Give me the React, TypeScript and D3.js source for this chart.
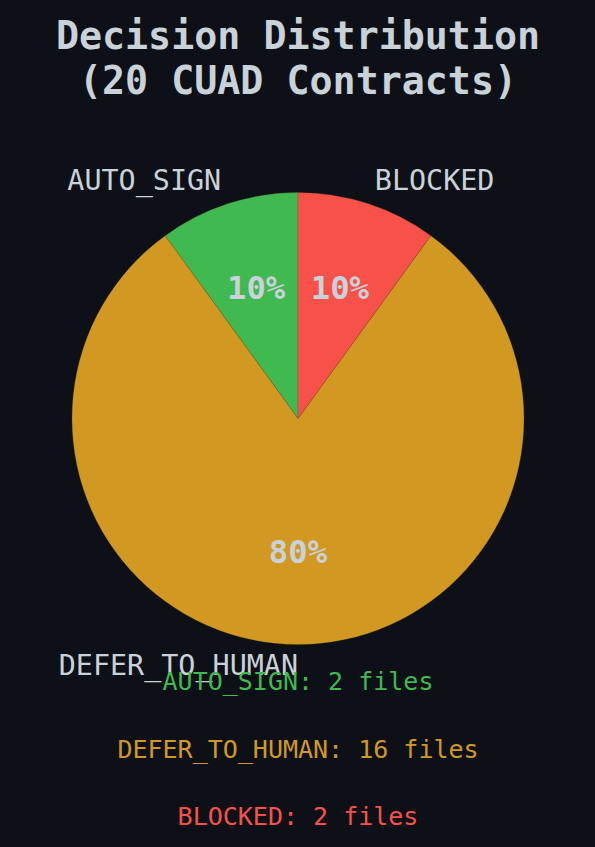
import { useEffect, useRef } from 'react';
import * as d3 from 'd3';

const categories = ['AUTO_SIGN', 'DEFER_TO_HUMAN', 'BLOCKED'];
const counts = [2, 16, 2];
const colors = ['#3fb950', '#d29922', '#f85149'];
const titleLines = ['Decision Distribution', '(20 CUAD Contracts)'];

interface Slice {
  name: string;
  count: number;
  color: string;
}

const slices: Slice[] = categories.map((name, i) => ({ name, count: counts[i], color: colors[i] }));

export default function App() {
  const svgRef = useRef<SVGSVGElement>(null);

  useEffect(() => {
    if (!svgRef.current) return;
    const width = 595;
    const height = 847;
    const bg = '#0d1117';
    const fg = '#c9d1d9';
    const font = '"DejaVu Sans Mono", monospace';

    const svg = d3.select(svgRef.current);
    svg.selectAll('*').remove();
    svg.attr('width', width).attr('height', height).attr('viewBox', `0 0 ${width} ${height}`);

    svg.append('rect').attr('width', width).attr('height', height).attr('fill', bg);

    // title
    svg.append('g')
      .selectAll('text')
      .data(titleLines)
      .join('text')
      .attr('x', 298)
      .attr('y', (_d, i) => 49 + i * 45)
      .attr('text-anchor', 'middle')
      .attr('font-family', font)
      .attr('font-weight', 'bold')
      .attr('font-size', 38.3)
      .attr('fill', fg)
      .text((d) => d);

    const cx = 298;
    const cy = 418.5;
    const r = 226;
    const total = d3.sum(counts);

    // matplotlib-style: start at top, counter-clockwise
    const pie = d3.pie<Slice>().value((d) => d.count).sort(null).startAngle(0).endAngle(-2 * Math.PI);
    const arcs = pie(slices);
    const arc = d3.arc<d3.PieArcDatum<Slice>>().innerRadius(0).outerRadius(r);

    const g = svg.append('g').attr('transform', `translate(${cx}, ${cy})`);

    g.selectAll('path')
      .data(arcs)
      .join('path')
      .attr('d', arc)
      .attr('fill', (d) => d.data.color)
      .attr('stroke', '#6b4a1a')
      .attr('stroke-width', 0.4)
      .attr('stroke-opacity', 0.6);

    const mid = (d: d3.PieArcDatum<Slice>) => (d.startAngle + d.endAngle) / 2;

    // outer labels
    g.selectAll('text.label')
      .data(arcs)
      .join('text')
      .attr('class', 'label')
      .attr('x', (d) => Math.sin(mid(d)) * r * 1.1)
      .attr('y', (d) => -Math.cos(mid(d)) * r * 1.1)
      .attr('dy', '0.28em')
      .attr('text-anchor', (d) => (Math.sin(mid(d)) < 0 ? 'end' : 'start'))
      .attr('font-family', font)
      .attr('font-size', 28.4)
      .attr('fill', fg)
      .text((d) => d.data.name);

    // percent labels
    g.selectAll('text.pct')
      .data(arcs)
      .join('text')
      .attr('class', 'pct')
      .attr('x', (d) => Math.sin(mid(d)) * r * 0.6)
      .attr('y', (d) => -Math.cos(mid(d)) * r * 0.6)
      .attr('dy', '0.28em')
      .attr('text-anchor', 'middle')
      .attr('font-family', font)
      .attr('font-weight', 'bold')
      .attr('font-size', 32.3)
      .attr('fill', fg)
      .text((d) => `${Math.round((d.data.count / total) * 100)}%`);

    // count summary
    svg.append('g')
      .selectAll('text')
      .data(slices)
      .join('text')
      .attr('x', 298)
      .attr('y', (_d, i) => 690 + i * 67.5)
      .attr('text-anchor', 'middle')
      .attr('font-family', font)
      .attr('font-size', 25)
      .attr('fill', (d) => d.color)
      .text((d) => `${d.name}: ${d.count} files`);
  }, []);

  return <svg ref={svgRef} style={{ position: 'absolute', left: 0, top: 0, display: 'block' }} />;
}
